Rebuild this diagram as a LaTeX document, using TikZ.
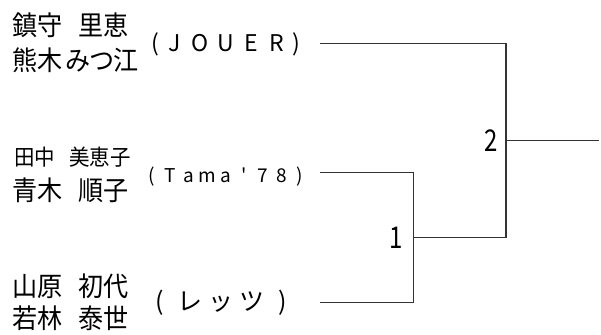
\documentclass[tikz,border=0pt]{standalone}
\usepackage{fontspec}
\setmainfont{Noto Sans CJK JP}
\newfontfamily\namefont{Noto Sans CJK JP}[FakeStretch=0.93]
\newfontfamily\digitfont{Noto Sans CJK JP}[FakeStretch=0.8]
\newfontfamily\rawfont{Noto Sans CJK JP}
\newcommand\chs[2]{\makebox[#1pt][c]{#2}}
\newcommand\pk[1]{{\addfontfeature{RawFeature=+palt}#1}}
\begin{document}
\begin{tikzpicture}[x=1pt,y=-1pt,
  line/.style={line width=1.1pt,draw=black!80},
  player/.style={anchor=west,inner sep=0pt,font=\namefont\fontsize{27}{30}\selectfont},
  team/.style={inner sep=0pt},
  score/.style={font=\digitfont\fontsize{30}{32}\selectfont,inner sep=0pt}]
\useasboundingbox (0,0) rectangle (601,334);
% players
\node[player] (p1a) at (12,25) {鎮守\hspace{16pt}里恵};
\node[player] (p1b) at (12,60.5) {熊木\hspace{3pt}\pk{みつ}江};
\node[player,font=\namefont\fontsize{22}{24}\selectfont] (p2a) at (14,157) {田中\hspace{14pt}美恵子};
\node[player] (p2b) at (12,190) {青木\hspace{16pt}順子};
\node[player] (p3a) at (12,286) {山原\hspace{16pt}初代};
\node[player] (p3b) at (12,318.5) {若林\hspace{16pt}泰世};
% teams
\node[team,font=\fontsize{23}{24}\selectfont] (t1) at (226,44.5) {\chs{14}{(}\chs{25.5}{J}\chs{25.5}{O}\chs{25.5}{U}\chs{25.5}{E}\chs{25.5}{R}\chs{14}{)}};
\node[team,font=\fontsize{19}{20}\selectfont] (t2) at (226,176.5) {\chs{18.5}{(}\chs{18.5}{T}\chs{18.5}{a}\chs{18.5}{m}\chs{18.5}{a}\chs{18.5}{\rawfont'}\chs{18.5}{7}\chs{18.5}{8}\chs{18.5}{)}};
\node[team,font=\fontsize{25}{26}\selectfont] (t3) at (221,302.5) {\chs{30.75}{(}\chs{30.75}{レ}\chs{30.75}{ッ}\chs{30.75}{ツ}\chs{30.75}{)}};
% bracket coordinates
\coordinate (a1) at (320,43.3);
\coordinate (a2) at (320,172.7);
\coordinate (a3) at (320,302.7);
\coordinate (m1) at (413.7,237.7);
\coordinate (m2) at (506,140.7);
\coordinate (w) at (599,140.7);
\draw[line] (a2) -| (m1) |- (a3);
\draw[line] (m1) -- (m1 -| m2);
\draw[line] (a1) -| (m2) |- (m1 -| m2);
\draw[line] (m2) -- (w);
\node[score,anchor=east] (s1) at (403,237.7) {1};
\node[score,anchor=east] (s2) at (498,141) {2};
\end{tikzpicture}
\end{document}
